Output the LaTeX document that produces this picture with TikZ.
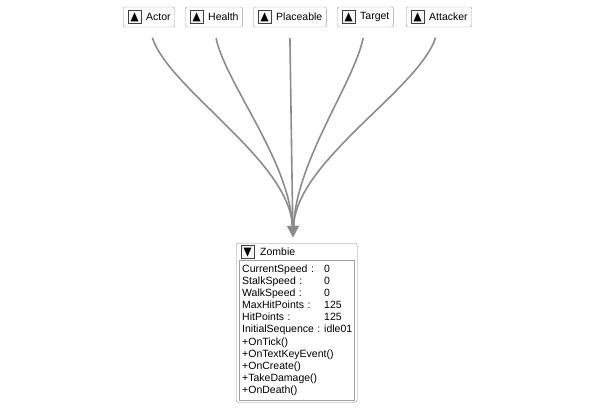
\documentclass[tikz,border=0pt]{standalone}
\usepackage{fontspec}
\setmainfont{Liberation Sans}
\usetikzlibrary{arrows.meta}

\definecolor{linkgray}{HTML}{8C8C8C}
\definecolor{boxgray}{HTML}{A0A0A0}
\definecolor{outergray}{HTML}{8E8E8E}

% class icons, drawn right of the given anchor
\newcommand{\upicon}[1]{%
  \draw[black!75, fill=black!4] ([shift={(5pt,-6.5pt)}]#1) rectangle ([shift={(18pt,6.5pt)}]#1);
  \fill[black] ([shift={(7.5pt,-4.5pt)}]#1) -- ([shift={(15.5pt,-4.5pt)}]#1) -- ([shift={(11.5pt,4.5pt)}]#1) -- cycle;}
\newcommand{\downicon}[1]{%
  \draw[black!75, fill=black!4] ([shift={(5pt,-6.5pt)}]#1) rectangle ([shift={(18pt,6.5pt)}]#1);
  \fill[black] ([shift={(7.5pt,4.5pt)}]#1) -- ([shift={(15.5pt,4.5pt)}]#1) -- ([shift={(11.5pt,-4.5pt)}]#1) -- cycle;}
\newcommand{\member}[2]{\makebox[82pt][l]{#1}#2}

\begin{document}
\begin{tikzpicture}[x=1pt,y=-1pt,
    classfont/.style={font=\fontsize{10.5}{12.1}\selectfont},
    basebox/.style={draw=boxgray, rounded corners=2pt, fill=white, minimum height=20pt, inner xsep=4pt, anchor=west, classfont},
    link/.style={draw=linkgray, line width=1.6pt, -{Triangle[length=11pt,width=10pt]}, shorten <=11pt, shorten >=6pt}]
    \useasboundingbox (0,0) rectangle (596,409);

    \node[basebox] (actor) at (123,17) {\hspace*{19pt}Actor};
    \node[basebox] (health) at (185,17) {\hspace*{19pt}Health};
    \node[basebox] (placeable) at (253,17) {\hspace*{19pt}Placeable};
    \node[basebox] (target) at (337,17) {\hspace*{19pt}Target};
    \node[basebox] (attacker) at (406,17) {\hspace*{19pt}Attacker};
    \foreach \n in {actor,health,placeable,target,attacker}
        \upicon{\n.west};

    \node[draw=outergray, rounded corners=2pt, anchor=north west, minimum width=121pt, minimum height=159pt, inner sep=0pt] (zombie) at (236,243) {};
    \coordinate (zombieicon) at (236,252);
    \coordinate (zombietop) at (293,243);
    \downicon{zombieicon};
    \node[anchor=west, inner sep=0pt, classfont] (zombiehead) at (260,252) {Zombie};
    \node[draw=boxgray, anchor=north west, minimum width=115pt, minimum height=140pt, text width=109pt, inner xsep=3pt, align=left, classfont] (zombiebody) at (239,260) {%
        \member{CurrentSpeed :}{0}\\
        \member{StalkSpeed :}{0}\\
        \member{WalkSpeed :}{0}\\
        \member{MaxHitPoints :}{125}\\
        \member{HitPoints :}{125}\\
        \member{InitialSequence :}{idle01}\\
        +OnTick()\\
        +OnTextKeyEvent()\\
        +OnCreate()\\
        +TakeDamage()\\
        +OnDeath()};

    \draw[link] (actor.south) .. controls +(20,62) and +(-3,-82) .. (zombietop);
    \draw[link] (health.south) .. controls +(11,55) and +(-3,-82) .. (zombietop);
    \draw[link] (placeable.south) -- (zombietop);
    \draw[link] (target.south) .. controls +(-11,55) and +(3,-82) .. (zombietop);
    \draw[link] (attacker.south) .. controls +(-20,62) and +(3,-82) .. (zombietop);
\end{tikzpicture}
\end{document}
